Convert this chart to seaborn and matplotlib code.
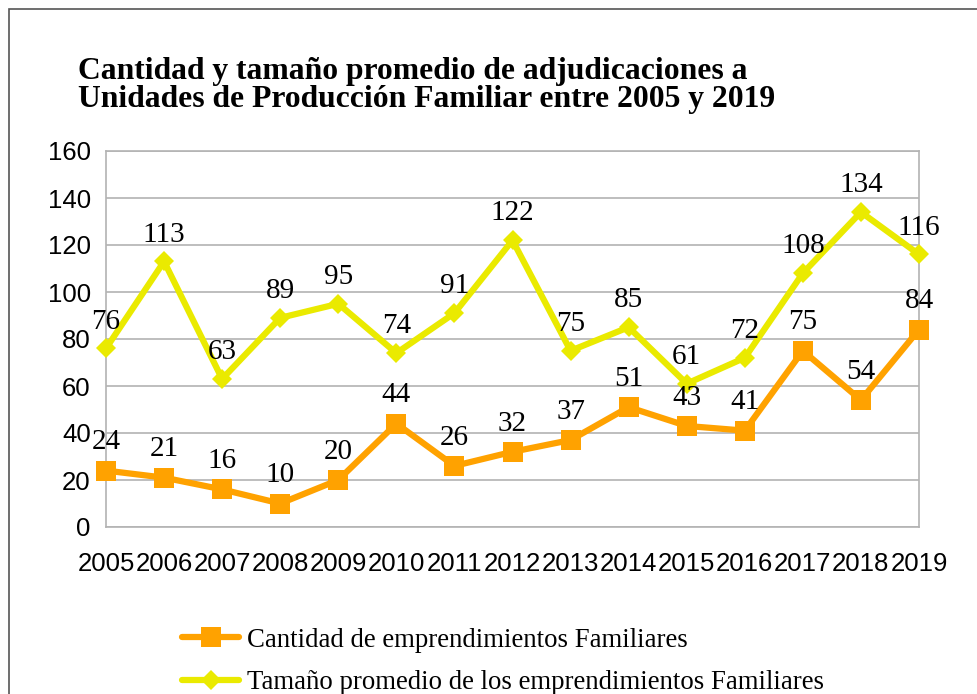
import matplotlib
matplotlib.use('Agg')
import matplotlib.pyplot as plt
import seaborn as sns
import pandas as pd
from matplotlib.patches import Rectangle

# Data
years = list(range(2005, 2020))
cantidad = [24, 21, 16, 10, 20, 44, 26, 32, 37, 51, 43, 41, 75, 54, 84]
tamano = [76, 113, 63, 89, 95, 74, 91, 122, 75, 85, 61, 72, 108, 134, 116]
serie_cantidad = 'Cantidad de emprendimientos Familiares'
serie_tamano = 'Tamaño promedio de los emprendimientos Familiares'
titulo = 'Cantidad y tamaño promedio de adjudicaciones a\nUnidades de Producción Familiar entre 2005 y 2019'

df = pd.DataFrame({'year': years, 'cantidad': cantidad, 'tamano': tamano})

sns.set_style('white')
plt.rcParams['font.family'] = ['Liberation Sans', 'DejaVu Sans']
plt.rcParams['text.color'] = 'black'
plt.rcParams['xtick.labelcolor'] = 'black'
plt.rcParams['ytick.labelcolor'] = 'black'

orange = '#ffa200'
yellow = '#eaea00'
grid = '#b3b3b3'

fig = plt.figure(figsize=(9.78, 6.94), dpi=100)
ax = fig.add_axes([106 / 978, 1 - 527 / 694, (919 - 106) / 978, (527 - 151) / 694])

sns.lineplot(data=df, x='year', y='cantidad', ax=ax, color=orange, lw=4.5,
             marker='s', markersize=14, markeredgewidth=0, label=serie_cantidad,
             clip_on=False, zorder=4)
sns.lineplot(data=df, x='year', y='tamano', ax=ax, color=yellow, lw=4.5,
             marker='D', markersize=10, markeredgewidth=0, label=serie_tamano,
             clip_on=False, zorder=3)

# Data labels
serif = ['Liberation Serif', 'DejaVu Serif']
for x, y in zip(years, cantidad):
    ax.annotate(str(y), (x, y), xytext=(0, 11), textcoords='offset points',
                ha='center', va='bottom', fontsize=21, family=serif, zorder=5)
for x, y in zip(years, tamano):
    ax.annotate(str(y), (x, y), xytext=(0, 10), textcoords='offset points',
                ha='center', va='bottom', fontsize=21, family=serif, zorder=5)

ax.set_xlim(2005, 2019)
ax.set_ylim(0, 160)
ax.set_xticks(years)
ax.set_xticklabels([str(y) for y in years])
ax.set_yticks(range(0, 161, 20))
ax.set_xlabel('')
ax.set_ylabel('')
ax.yaxis.grid(True, color=grid, lw=1.2)
ax.xaxis.grid(False)
for s in ax.spines.values():
    s.set_color(grid)
    s.set_linewidth(1.2)
ax.tick_params(axis='both', length=8, width=1.2, color=grid, labelsize=18.5,
               labelcolor='black', direction='out')
ax.tick_params(axis='x', pad=10)
ax.tick_params(axis='y', pad=3)
ax.get_legend().remove()

# Title
fig.text(78 / 978, 1 - 57 / 694, titulo, ha='left', va='top', fontsize=22.8,
         fontweight='bold', family=serif, linespacing=0.97, color='black')

# Legend
handles, labels = ax.get_legend_handles_labels()
fig.legend(handles, labels, loc='upper left', bbox_to_anchor=(171 / 978, 1 - 617 / 694),
           frameon=False, prop={'family': serif, 'size': 19.3}, handlelength=2.15,
           handletextpad=0.3, labelspacing=0.66, borderaxespad=0)

# Outer frame of the chart
fig.patches.append(Rectangle((9 / 978, -0.2), 1.2, 1.2 - 9 / 694,
                             transform=fig.transFigure, fill=False,
                             edgecolor='#555555', lw=1.2))

fig.savefig('out.png', dpi=100)
